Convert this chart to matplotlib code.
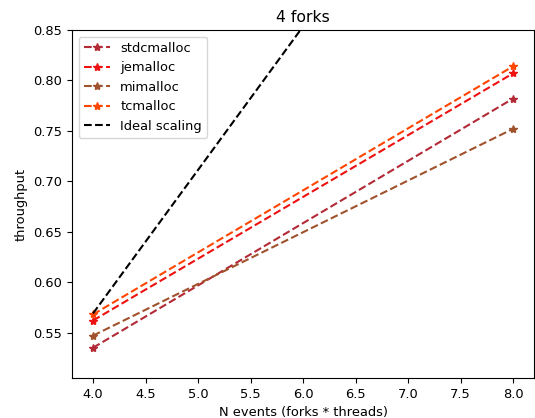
import matplotlib
matplotlib.use("Agg")
import matplotlib.pyplot as plt

n_events = [4, 8]
stdcmalloc = [0.535, 0.782]
jemalloc = [0.562, 0.807]
mimalloc = [0.547, 0.752]
tcmalloc = [0.568, 0.814]
ideal = [0.569, 1.138]

series = [
    ("stdcmalloc", stdcmalloc, "#b22a35"),
    ("jemalloc", jemalloc, "#ee1111"),
    ("mimalloc", mimalloc, "#a0522d"),
    ("tcmalloc", tcmalloc, "#ff4500"),
]

plt.rcParams["font.size"] = 9.4

fig = plt.figure(figsize=(5.35, 4.18), dpi=100)
ax = fig.add_axes([0.1346, 0.0957, 0.8636, 0.8325])

for name, vals, color in series:
    ax.plot(n_events, vals, "--*", color=color, label=name)
ax.plot(n_events, ideal, "--", color="black", label="Ideal scaling")

ax.set_xlim(3.8, 8.2)
ax.set_ylim(0.505, 0.85)
ax.set_title("4 forks")
ax.set_xlabel("N events (forks * threads)")
ax.set_ylabel("throughput")
ax.legend(loc="upper left")

fig.savefig("out.png", dpi=100)
